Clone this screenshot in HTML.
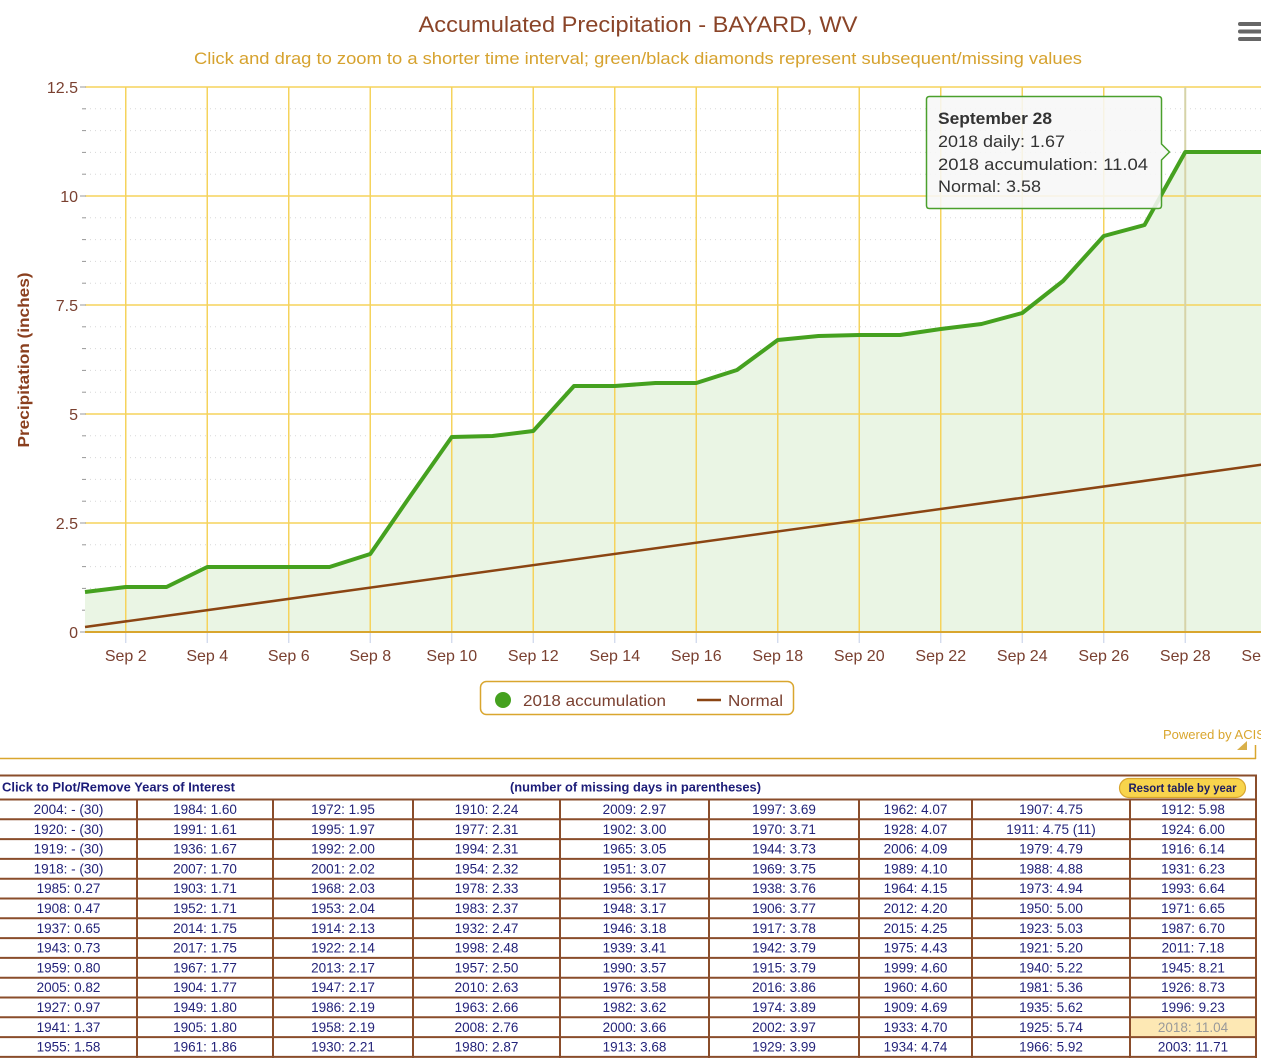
<!DOCTYPE html>
<html>
<head>
<meta charset="utf-8">
<style>
html,body{margin:0;padding:0;background:#fff;}
body{width:1261px;height:1059px;overflow:hidden;}
svg{display:block;font-family:"Liberation Sans",sans-serif;}
</style>
</head>
<body>
<svg width="1261" height="1059" viewBox="0 0 1261 1059" xmlns="http://www.w3.org/2000/svg">
  <rect x="0" y="0" width="1261" height="1059" fill="#fff"/>

  <!-- Title -->
  <text x="638" y="32" text-anchor="middle" font-size="22" fill="#8a4428" textLength="439" lengthAdjust="spacingAndGlyphs">Accumulated Precipitation - BAYARD, WV</text>
  <text x="638" y="64" text-anchor="middle" font-size="17" fill="#d6a22e" textLength="888" lengthAdjust="spacingAndGlyphs">Click and drag to zoom to a shorter time interval; green/black diamonds represent subsequent/missing values</text>

  <!-- Menu icon -->
  <g fill="#666">
    <rect x="1238" y="22" width="24" height="4" rx="2"/>
    <rect x="1238" y="29.5" width="24" height="4" rx="2"/>
    <rect x="1238" y="37" width="24" height="4" rx="2"/>
  </g>

  <!-- Minor dotted gridlines -->
  <g stroke="#d8d8d8" stroke-width="1" stroke-dasharray="1,4">
    <line x1="85" y1="108.8" x2="1261" y2="108.8"/>
    <line x1="85" y1="130.6" x2="1261" y2="130.6"/>
    <line x1="85" y1="152.4" x2="1261" y2="152.4"/>
    <line x1="85" y1="174.2" x2="1261" y2="174.2"/>
    <line x1="85" y1="217.8" x2="1261" y2="217.8"/>
    <line x1="85" y1="239.6" x2="1261" y2="239.6"/>
    <line x1="85" y1="261.4" x2="1261" y2="261.4"/>
    <line x1="85" y1="283.2" x2="1261" y2="283.2"/>
    <line x1="85" y1="326.8" x2="1261" y2="326.8"/>
    <line x1="85" y1="348.6" x2="1261" y2="348.6"/>
    <line x1="85" y1="370.4" x2="1261" y2="370.4"/>
    <line x1="85" y1="392.2" x2="1261" y2="392.2"/>
    <line x1="85" y1="435.8" x2="1261" y2="435.8"/>
    <line x1="85" y1="457.6" x2="1261" y2="457.6"/>
    <line x1="85" y1="479.4" x2="1261" y2="479.4"/>
    <line x1="85" y1="501.2" x2="1261" y2="501.2"/>
    <line x1="85" y1="544.8" x2="1261" y2="544.8"/>
    <line x1="85" y1="566.6" x2="1261" y2="566.6"/>
    <line x1="85" y1="588.4" x2="1261" y2="588.4"/>
    <line x1="85" y1="610.2" x2="1261" y2="610.2"/>
  </g>
  <!-- minor ticks -->
  <g stroke="#999" stroke-width="1">
    <line x1="82" y1="108.8" x2="86" y2="108.8"/><line x1="82" y1="130.6" x2="86" y2="130.6"/><line x1="82" y1="152.4" x2="86" y2="152.4"/><line x1="82" y1="174.2" x2="86" y2="174.2"/>
    <line x1="82" y1="217.8" x2="86" y2="217.8"/><line x1="82" y1="239.6" x2="86" y2="239.6"/><line x1="82" y1="261.4" x2="86" y2="261.4"/><line x1="82" y1="283.2" x2="86" y2="283.2"/>
    <line x1="82" y1="326.8" x2="86" y2="326.8"/><line x1="82" y1="348.6" x2="86" y2="348.6"/><line x1="82" y1="370.4" x2="86" y2="370.4"/><line x1="82" y1="392.2" x2="86" y2="392.2"/>
    <line x1="82" y1="435.8" x2="86" y2="435.8"/><line x1="82" y1="457.6" x2="86" y2="457.6"/><line x1="82" y1="479.4" x2="86" y2="479.4"/><line x1="82" y1="501.2" x2="86" y2="501.2"/>
    <line x1="82" y1="544.8" x2="86" y2="544.8"/><line x1="82" y1="566.6" x2="86" y2="566.6"/><line x1="82" y1="588.4" x2="86" y2="588.4"/><line x1="82" y1="610.2" x2="86" y2="610.2"/>
  </g>

  <!-- Area fill -->
  <path d="M85,592 L125.75,587 L166.5,587 L207.25,567 L248,567 L288.75,567 L329.5,567 L370.25,554 L411,495 L451.75,437 L492.5,436 L533.25,431 L574,386 L614.75,386 L655.5,383 L696.25,383 L737,370 L777.75,340 L818.5,336 L859.25,335 L900,335 L940.75,329 L981.5,324 L1022.25,313 L1063,281 L1103.75,236 L1144.5,225 L1185.25,152 L1226,152 L1266.75,152 L1266.75,632 L85,632 Z" fill="#eaf5e4"/>

  <!-- Major horizontal gridlines -->
  <g stroke="#f5d35c" stroke-width="1.5">
    <line x1="85" y1="87" x2="1261" y2="87"/>
    <line x1="85" y1="196" x2="1261" y2="196"/>
    <line x1="85" y1="305" x2="1261" y2="305"/>
    <line x1="85" y1="414" x2="1261" y2="414"/>
    <line x1="85" y1="523" x2="1261" y2="523"/>
  </g>
  <g stroke="#999" stroke-width="1">
    <line x1="80" y1="87" x2="86" y2="87"/><line x1="80" y1="196" x2="86" y2="196"/><line x1="80" y1="305" x2="86" y2="305"/><line x1="80" y1="414" x2="86" y2="414"/><line x1="80" y1="523" x2="86" y2="523"/><line x1="80" y1="632" x2="86" y2="632"/>
  </g>
  <!-- Vertical gridlines -->
  <g stroke="#f5d35c" stroke-width="1.5">
    <line x1="125.75" y1="87" x2="125.75" y2="632"/>
    <line x1="207.25" y1="87" x2="207.25" y2="632"/>
    <line x1="288.75" y1="87" x2="288.75" y2="632"/>
    <line x1="370.25" y1="87" x2="370.25" y2="632"/>
    <line x1="451.75" y1="87" x2="451.75" y2="632"/>
    <line x1="533.25" y1="87" x2="533.25" y2="632"/>
    <line x1="614.75" y1="87" x2="614.75" y2="632"/>
    <line x1="696.25" y1="87" x2="696.25" y2="632"/>
    <line x1="777.75" y1="87" x2="777.75" y2="632"/>
    <line x1="859.25" y1="87" x2="859.25" y2="632"/>
    <line x1="940.75" y1="87" x2="940.75" y2="632"/>
    <line x1="1022.25" y1="87" x2="1022.25" y2="632"/>
    <line x1="1103.75" y1="87" x2="1103.75" y2="632"/>
  </g>
  <!-- crosshair at Sep 28 -->
  <line x1="1185.25" y1="87" x2="1185.25" y2="632" stroke="#d6d3a8" stroke-width="2"/>

  <!-- Normal line -->
  <line x1="85" y1="627" x2="1266.75" y2="464" stroke="#8b4513" stroke-width="2.5"/>

  <!-- 2018 accumulation line -->
  <polyline points="85,592 125.75,587 166.5,587 207.25,567 248,567 288.75,567 329.5,567 370.25,554 411,495 451.75,437 492.5,436 533.25,431 574,386 614.75,386 655.5,383 696.25,383 737,370 777.75,340 818.5,336 859.25,335 900,335 940.75,329 981.5,324 1022.25,313 1063,281 1103.75,236 1144.5,225 1185.25,152 1226,152 1266.75,152" fill="none" stroke="#45a11f" stroke-width="4" stroke-linejoin="round"/>

  <!-- X axis -->
  <line x1="85" y1="632" x2="1261" y2="632" stroke="#d9a62e" stroke-width="2"/>
  <g stroke="#ccd6eb" stroke-width="1.2">
    <line x1="125.75" y1="633" x2="125.75" y2="643"/><line x1="207.25" y1="633" x2="207.25" y2="643"/><line x1="288.75" y1="633" x2="288.75" y2="643"/><line x1="370.25" y1="633" x2="370.25" y2="643"/>
    <line x1="451.75" y1="633" x2="451.75" y2="643"/><line x1="533.25" y1="633" x2="533.25" y2="643"/><line x1="614.75" y1="633" x2="614.75" y2="643"/><line x1="696.25" y1="633" x2="696.25" y2="643"/>
    <line x1="777.75" y1="633" x2="777.75" y2="643"/><line x1="859.25" y1="633" x2="859.25" y2="643"/><line x1="940.75" y1="633" x2="940.75" y2="643"/><line x1="1022.25" y1="633" x2="1022.25" y2="643"/>
    <line x1="1103.75" y1="633" x2="1103.75" y2="643"/><line x1="1185.25" y1="633" x2="1185.25" y2="643"/>
  </g>
  <g font-size="16" fill="#7a4030" text-anchor="middle">
    <text x="125.75" y="661">Sep 2</text>
    <text x="207.25" y="661">Sep 4</text>
    <text x="288.75" y="661">Sep 6</text>
    <text x="370.25" y="661">Sep 8</text>
    <text x="451.75" y="661">Sep 10</text>
    <text x="533.25" y="661">Sep 12</text>
    <text x="614.75" y="661">Sep 14</text>
    <text x="696.25" y="661">Sep 16</text>
    <text x="777.75" y="661">Sep 18</text>
    <text x="859.25" y="661">Sep 20</text>
    <text x="940.75" y="661">Sep 22</text>
    <text x="1022.25" y="661">Sep 24</text>
    <text x="1103.75" y="661">Sep 26</text>
    <text x="1185.25" y="661">Sep 28</text>
    <text x="1266.75" y="661">Sep 30</text>
  </g>

  <!-- Y axis labels -->
  <g font-size="16" fill="#7a4030" text-anchor="end">
    <text x="78" y="93">12.5</text>
    <text x="78" y="202">10</text>
    <text x="78" y="311">7.5</text>
    <text x="78" y="420">5</text>
    <text x="78" y="529">2.5</text>
    <text x="78" y="638">0</text>
  </g>
  <text transform="translate(29,360) rotate(-90)" text-anchor="middle" font-size="16" font-weight="bold" fill="#8a3f1e" textLength="175" lengthAdjust="spacingAndGlyphs">Precipitation (inches)</text>

  <!-- Tooltip -->
  <g>
    <path d="M929.5,96.5 L1158.5,96.5 Q1161.5,96.5 1161.5,99.5 L1161.5,144 L1169.5,152 L1161.5,160 L1161.5,205.5 Q1161.5,208.5 1158.5,208.5 L929.5,208.5 Q926.5,208.5 926.5,205.5 L926.5,99.5 Q926.5,96.5 929.5,96.5 Z" fill="#f7f7f7" fill-opacity="0.88" stroke="#4aa02c" stroke-width="1.5"/>
    <text x="938" y="124" font-size="17" font-weight="bold" fill="#333" textLength="114" lengthAdjust="spacingAndGlyphs">September 28</text>
    <text x="938" y="147" font-size="17" fill="#333" textLength="127" lengthAdjust="spacingAndGlyphs">2018 daily: 1.67</text>
    <text x="938" y="170" font-size="17" fill="#333" textLength="210" lengthAdjust="spacingAndGlyphs">2018 accumulation: 11.04</text>
    <text x="938" y="192" font-size="17" fill="#333" textLength="103" lengthAdjust="spacingAndGlyphs">Normal: 3.58</text>
  </g>

  <!-- Legend -->
  <rect x="480.5" y="681.5" width="313" height="33" rx="6" fill="#fff" stroke="#d9a62e" stroke-width="1.5"/>
  <circle cx="503" cy="700" r="8" fill="#45a11f"/>
  <text x="523" y="706" font-size="16" fill="#7a4030" textLength="143" lengthAdjust="spacingAndGlyphs">2018 accumulation</text>
  <line x1="697" y1="700" x2="721" y2="700" stroke="#8b4513" stroke-width="2.5"/>
  <text x="728" y="706" font-size="16" fill="#7a4030" textLength="55" lengthAdjust="spacingAndGlyphs">Normal</text>

  <!-- Powered by ACIS -->
  <text x="1163" y="739" font-size="13" fill="#d9a62e">Powered by ACIS</text>
  <path d="M1237,750 L1247,741 L1247,750 Z" fill="#d9b04a"/>
  <line x1="0" y1="758.5" x2="1256" y2="758.5" stroke="#d9a62e" stroke-width="1.5"/>
  <line x1="1255.5" y1="745" x2="1255.5" y2="759" stroke="#d9a62e" stroke-width="1.5"/>

  <!-- Table -->
  <rect x="1131" y="1018.5" width="124" height="19" fill="#fde8b4"/>
  <g stroke="#8a4d2b" stroke-width="2">
    <line x1="0" y1="775.5" x2="1257" y2="775.5"/>
    <line x1="1256" y1="775" x2="1256" y2="1058"/>
    <line x1="0" y1="799.5" x2="1257" y2="799.5"/>
    <line x1="0" y1="819.3" x2="1257" y2="819.3"/>
    <line x1="0" y1="839.1" x2="1257" y2="839.1"/>
    <line x1="0" y1="858.9" x2="1257" y2="858.9"/>
    <line x1="0" y1="878.7" x2="1257" y2="878.7"/>
    <line x1="0" y1="898.5" x2="1257" y2="898.5"/>
    <line x1="0" y1="918.3" x2="1257" y2="918.3"/>
    <line x1="0" y1="938.1" x2="1257" y2="938.1"/>
    <line x1="0" y1="957.9" x2="1257" y2="957.9"/>
    <line x1="0" y1="977.7" x2="1257" y2="977.7"/>
    <line x1="0" y1="997.5" x2="1257" y2="997.5"/>
    <line x1="0" y1="1017.3" x2="1257" y2="1017.3"/>
    <line x1="0" y1="1037.1" x2="1257" y2="1037.1"/>
    <line x1="0" y1="1056.9" x2="1257" y2="1056.9"/>
    <line x1="137" y1="799" x2="137" y2="1058"/>
    <line x1="273" y1="799" x2="273" y2="1058"/>
    <line x1="413" y1="799" x2="413" y2="1058"/>
    <line x1="560" y1="799" x2="560" y2="1058"/>
    <line x1="709" y1="799" x2="709" y2="1058"/>
    <line x1="859" y1="799" x2="859" y2="1058"/>
    <line x1="972" y1="799" x2="972" y2="1058"/>
    <line x1="1130" y1="799" x2="1130" y2="1058"/>
  </g>

  <text x="2" y="791.5" font-size="13" font-weight="bold" fill="#1c1c78" textLength="233" lengthAdjust="spacingAndGlyphs">Click to Plot/Remove Years of Interest</text>
  <text x="635.5" y="791.5" font-size="13" font-weight="bold" fill="#1c1c78" text-anchor="middle" textLength="251" lengthAdjust="spacingAndGlyphs">(number of missing days in parentheses)</text>
  <rect x="1119.5" y="778.5" width="126" height="19" rx="9.5" fill="#f8d44c" stroke="#d9a62e" stroke-width="1.2"/>
  <text x="1182.5" y="792" font-size="12" font-weight="bold" fill="#1c1c60" text-anchor="middle" textLength="108" lengthAdjust="spacingAndGlyphs">Resort table by year</text>

  <g font-size="13.5" fill="#23237a" text-anchor="middle">
    <text x="68.5" y="814">2004: - (30)</text>
    <text x="68.5" y="833.8">1920: - (30)</text>
    <text x="68.5" y="853.6">1919: - (30)</text>
    <text x="68.5" y="873.4">1918: - (30)</text>
    <text x="68.5" y="893.2">1985: 0.27</text>
    <text x="68.5" y="913">1908: 0.47</text>
    <text x="68.5" y="932.8">1937: 0.65</text>
    <text x="68.5" y="952.6">1943: 0.73</text>
    <text x="68.5" y="972.4">1959: 0.80</text>
    <text x="68.5" y="992.2">2005: 0.82</text>
    <text x="68.5" y="1012">1927: 0.97</text>
    <text x="68.5" y="1031.8">1941: 1.37</text>
    <text x="68.5" y="1051.6">1955: 1.58</text>
    <text x="205" y="814">1984: 1.60</text>
    <text x="205" y="833.8">1991: 1.61</text>
    <text x="205" y="853.6">1936: 1.67</text>
    <text x="205" y="873.4">2007: 1.70</text>
    <text x="205" y="893.2">1903: 1.71</text>
    <text x="205" y="913">1952: 1.71</text>
    <text x="205" y="932.8">2014: 1.75</text>
    <text x="205" y="952.6">2017: 1.75</text>
    <text x="205" y="972.4">1967: 1.77</text>
    <text x="205" y="992.2">1904: 1.77</text>
    <text x="205" y="1012">1949: 1.80</text>
    <text x="205" y="1031.8">1905: 1.80</text>
    <text x="205" y="1051.6">1961: 1.86</text>
    <text x="343" y="814">1972: 1.95</text>
    <text x="343" y="833.8">1995: 1.97</text>
    <text x="343" y="853.6">1992: 2.00</text>
    <text x="343" y="873.4">2001: 2.02</text>
    <text x="343" y="893.2">1968: 2.03</text>
    <text x="343" y="913">1953: 2.04</text>
    <text x="343" y="932.8">1914: 2.13</text>
    <text x="343" y="952.6">1922: 2.14</text>
    <text x="343" y="972.4">2013: 2.17</text>
    <text x="343" y="992.2">1947: 2.17</text>
    <text x="343" y="1012">1986: 2.19</text>
    <text x="343" y="1031.8">1958: 2.19</text>
    <text x="343" y="1051.6">1930: 2.21</text>
    <text x="486.5" y="814">1910: 2.24</text>
    <text x="486.5" y="833.8">1977: 2.31</text>
    <text x="486.5" y="853.6">1994: 2.31</text>
    <text x="486.5" y="873.4">1954: 2.32</text>
    <text x="486.5" y="893.2">1978: 2.33</text>
    <text x="486.5" y="913">1983: 2.37</text>
    <text x="486.5" y="932.8">1932: 2.47</text>
    <text x="486.5" y="952.6">1998: 2.48</text>
    <text x="486.5" y="972.4">1957: 2.50</text>
    <text x="486.5" y="992.2">2010: 2.63</text>
    <text x="486.5" y="1012">1963: 2.66</text>
    <text x="486.5" y="1031.8">2008: 2.76</text>
    <text x="486.5" y="1051.6">1980: 2.87</text>
    <text x="634.5" y="814">2009: 2.97</text>
    <text x="634.5" y="833.8">1902: 3.00</text>
    <text x="634.5" y="853.6">1965: 3.05</text>
    <text x="634.5" y="873.4">1951: 3.07</text>
    <text x="634.5" y="893.2">1956: 3.17</text>
    <text x="634.5" y="913">1948: 3.17</text>
    <text x="634.5" y="932.8">1946: 3.18</text>
    <text x="634.5" y="952.6">1939: 3.41</text>
    <text x="634.5" y="972.4">1990: 3.57</text>
    <text x="634.5" y="992.2">1976: 3.58</text>
    <text x="634.5" y="1012">1982: 3.62</text>
    <text x="634.5" y="1031.8">2000: 3.66</text>
    <text x="634.5" y="1051.6">1913: 3.68</text>
    <text x="784" y="814">1997: 3.69</text>
    <text x="784" y="833.8">1970: 3.71</text>
    <text x="784" y="853.6">1944: 3.73</text>
    <text x="784" y="873.4">1969: 3.75</text>
    <text x="784" y="893.2">1938: 3.76</text>
    <text x="784" y="913">1906: 3.77</text>
    <text x="784" y="932.8">1917: 3.78</text>
    <text x="784" y="952.6">1942: 3.79</text>
    <text x="784" y="972.4">1915: 3.79</text>
    <text x="784" y="992.2">2016: 3.86</text>
    <text x="784" y="1012">1974: 3.89</text>
    <text x="784" y="1031.8">2002: 3.97</text>
    <text x="784" y="1051.6">1929: 3.99</text>
    <text x="915.5" y="814">1962: 4.07</text>
    <text x="915.5" y="833.8">1928: 4.07</text>
    <text x="915.5" y="853.6">2006: 4.09</text>
    <text x="915.5" y="873.4">1989: 4.10</text>
    <text x="915.5" y="893.2">1964: 4.15</text>
    <text x="915.5" y="913">2012: 4.20</text>
    <text x="915.5" y="932.8">2015: 4.25</text>
    <text x="915.5" y="952.6">1975: 4.43</text>
    <text x="915.5" y="972.4">1999: 4.60</text>
    <text x="915.5" y="992.2">1960: 4.60</text>
    <text x="915.5" y="1012">1909: 4.69</text>
    <text x="915.5" y="1031.8">1933: 4.70</text>
    <text x="915.5" y="1051.6">1934: 4.74</text>
    <text x="1051" y="814">1907: 4.75</text>
    <text x="1051" y="833.8">1911: 4.75 (11)</text>
    <text x="1051" y="853.6">1979: 4.79</text>
    <text x="1051" y="873.4">1988: 4.88</text>
    <text x="1051" y="893.2">1973: 4.94</text>
    <text x="1051" y="913">1950: 5.00</text>
    <text x="1051" y="932.8">1923: 5.03</text>
    <text x="1051" y="952.6">1921: 5.20</text>
    <text x="1051" y="972.4">1940: 5.22</text>
    <text x="1051" y="992.2">1981: 5.36</text>
    <text x="1051" y="1012">1935: 5.62</text>
    <text x="1051" y="1031.8">1925: 5.74</text>
    <text x="1051" y="1051.6">1966: 5.92</text>
    <text x="1193" y="814">1912: 5.98</text>
    <text x="1193" y="833.8">1924: 6.00</text>
    <text x="1193" y="853.6">1916: 6.14</text>
    <text x="1193" y="873.4">1931: 6.23</text>
    <text x="1193" y="893.2">1993: 6.64</text>
    <text x="1193" y="913">1971: 6.65</text>
    <text x="1193" y="932.8">1987: 6.70</text>
    <text x="1193" y="952.6">2011: 7.18</text>
    <text x="1193" y="972.4">1945: 8.21</text>
    <text x="1193" y="992.2">1926: 8.73</text>
    <text x="1193" y="1012">1996: 9.23</text>
    <text x="1193" y="1031.8" fill="#9a9a9a">2018: 11.04</text>
    <text x="1193" y="1051.6">2003: 11.71</text>
  </g>
</svg>
</body>
</html>
